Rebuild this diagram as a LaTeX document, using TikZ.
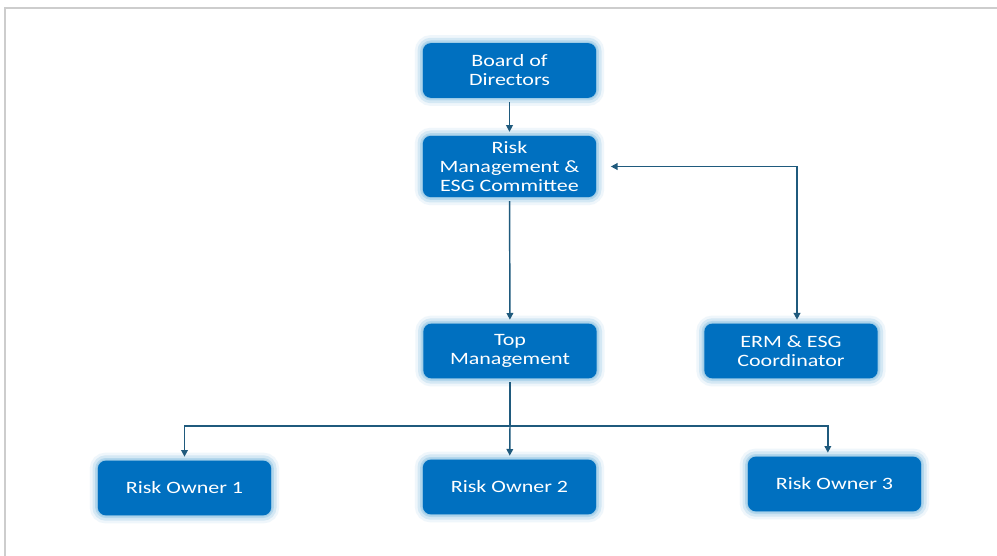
\documentclass[tikz,border=0pt]{standalone}
\usepackage{fontspec}
\setmainfont{Carlito}[FakeStretch=1.27]
\usetikzlibrary{arrows.meta}

\definecolor{boxblue}{RGB}{0,112,192}
\definecolor{glowblue}{RGB}{150,200,230}
\definecolor{linkblue}{RGB}{31,90,125}
\definecolor{framegray}{RGB}{205,205,205}

\tikzset{
  orgbox/.style={draw=none, fill=boxblue, rounded corners=6pt, text=white,
    minimum width=130pt, minimum height=41pt, align=center, font=\fontsize{13}{14.3}\selectfont,
    inner sep=2pt, outer sep=3pt,
    preaction={draw=glowblue, line width=12pt, opacity=0.15},
    preaction={draw=glowblue, line width=8pt, opacity=0.3},
    preaction={draw=glowblue, line width=4pt, opacity=0.5},
    preaction={draw=glowblue, line width=1.5pt, opacity=0.8}},
  link/.style={draw=linkblue, line width=1.1pt, -{Triangle[length=5pt,width=5pt]}}
}

\begin{document}
\begin{tikzpicture}[x=0.75pt,y=0.75pt,yscale=-1,xscale=1]
\useasboundingbox (0,0) rectangle (997,556);
\fill[white] (0,0) rectangle (997,556);

% page frame
\draw[framegray, line width=1.5pt] (5,556) -- (5,8) -- (997,8);

% boxes
\node[orgbox] (board) at (509.5,70.5) {Board of\\Directors};
\node[orgbox, minimum height=46pt] (rmc) at (509.5,166.5) {Risk\\Management \&\\ESG Committee};
\node[orgbox] (top) at (510,351) {Top\\Management};
\node[orgbox] (erm) at (791,351) {ERM \& ESG\\Coordinator};
\node[orgbox] (owner1) at (184.5,488) {Risk Owner 1};
\node[orgbox] (owner2) at (509.5,487) {Risk Owner 2};
\node[orgbox] (owner3) at (834.5,484) {Risk Owner 3};

\coordinate (split) at (510,426);

% connectors
\draw[link] (board) -- (rmc);
\draw[link] (rmc) -- (top);
\draw[link, {Triangle[length=5pt,width=5pt]}-{Triangle[length=5pt,width=5pt]}]
  ([xshift=4.5pt]erm.north) |- ([xshift=8pt]rmc.east);
\draw[linkblue, line width=1.1pt] (top) -- (split);
\draw[link] (split) -| (owner1.north);
\draw[link] (split) -- (owner2);
\draw[link] (split) -| ([xshift=-5pt]owner3.north);

\end{tikzpicture}
\end{document}
